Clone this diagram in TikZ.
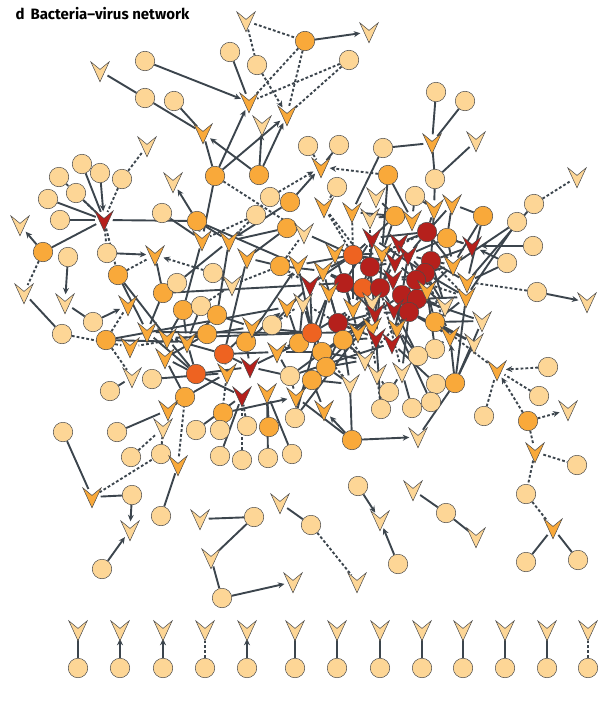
\documentclass[tikz,border=0pt]{standalone}
\usepackage{fontspec}
\setmainfont{Fira Sans}
\usetikzlibrary{arrows.meta,backgrounds}

\definecolor{cla}{HTML}{FDD696}
\definecolor{lar}{HTML}{F9A93A}
\definecolor{ver}{HTML}{EE6321}
\definecolor{esc}{HTML}{B5201C}
\definecolor{cinza}{HTML}{3C454D}
\definecolor{contorno}{HTML}{4A4A4A}

% virus: chevron apontando para baixo
\pgfdeclareshape{virus}{
  \inheritsavedanchors[from=circle]
  \inheritanchor[from=circle]{center}
  \inheritanchorborder[from=circle]
  \backgroundpath{
    \pgfpathmoveto{\pgfpointadd{\centerpoint}{\pgfpoint{0pt}{-10.8pt}}}
    \pgfpathlineto{\pgfpointadd{\centerpoint}{\pgfpoint{9.2pt}{9.2pt}}}
    \pgfpathlineto{\pgfpointadd{\centerpoint}{\pgfpoint{0pt}{1.6pt}}}
    \pgfpathlineto{\pgfpointadd{\centerpoint}{\pgfpoint{-9.2pt}{9.2pt}}}
    \pgfpathclose
  }
}

\begin{document}
\begin{tikzpicture}[
    x=1pt, y=-1pt,
    bact/.style={circle, minimum size=19.5pt, inner sep=0pt, draw=contorno,
                 line width=0.5pt, fill=#1},
    fago/.style={shape=virus, minimum size=17pt, inner sep=0pt, draw=contorno,
                 line width=0.5pt, fill=#1},
    liga/.style={draw=cinza, line width=1.9pt},
    infec/.style={liga, -{Stealth[length=6.5pt, width=6pt]}},
    pont/.style={liga, dash pattern=on 2.8pt off 2.1pt},
    ponta/.style={pont, -{Stealth[length=6.5pt, width=6pt]}}
  ]
  \useasboundingbox (0,0) rectangle (615,707);

  \node[anchor=base west, font=\fontsize{15}{18}\selectfont\bfseries] (titulo)
    at (12,19) {d\hspace{0.4em}Bacteria–virus network};

  % bacterias
  \foreach \n/\x/\y/\c in {b1/305/41/lar, b2/349/60/cla, b3/230/52/cla, b4/257/65/cla,
      b5/145/61/cla, b6/145/98/cla, b7/174/101/cla, b8/308/146/cla, b9/339/145/cla,
      b10/383/148/cla, b11/436/92/cla, b12/465/101/cla, b13/435/179/cla, b14/388/175/lar,
      b15/337/187/cla, b16/415/196/cla, b17/82/164/cla, b18/59/177/cla, b19/100/173/cla,
      b20/122/179/cla, b21/76/193/cla, b22/48/199/cla, b23/60/220/cla, b24/215/176/lar,
      b25/259/175/lar, b26/270/197/cla, b27/290/202/lar, b28/162/213/cla, b29/197/221/lar,
      b30/256/215/cla, b31/287/228/lar, b32/280/266/lar, b33/43/252/lar, b34/68/257/cla,
      b35/107/253/cla, b36/118/275/lar, b37/163/293/lar, b38/177/283/cla, b39/213/273/cla,
      b40/183/310/lar, b41/201/306/cla, b42/217/315/lar, b43/93/322/cla, b44/62/334/cla,
      b45/106/340/lar, b46/207/334/lar, b47/272/325/cla, b48/246/342/lar, b49/299/343/lar,
      b50/224/354/ver, b51/152/379/cla, b52/196/374/ver, b53/290/376/cla, b54/110/391/cla,
      b55/185/397/lar, b56/223/413/lar, b57/295/418/cla, b58/63/432/cla, b59/117/432/cla,
      b60/196/430/cla, b61/220/430/cla, b62/247/426/cla, b63/269/427/lar, b64/131/457/cla,
      b65/161/454/cla, b66/220/456/cla, b67/242/460/cla, b68/268/458/cla, b69/292/454/cla,
      b70/427/232/esc, b71/447/238/lar, b72/533/246/cla, b73/507/263/cla, b74/353/255/ver,
      b75/370/267/esc, b76/431/261/esc, b77/425/273/esc, b78/344/283/esc, b79/363/288/ver,
      b80/380/288/esc, b81/416/280/esc, b82/537/292/cla, b83/402/295/esc, b84/417/299/esc,
      b85/409/312/esc, b86/435/322/lar, b87/312/333/ver, b88/338/323/esc, b89/343/340/lar,
      b90/322/352/lar, b91/326/367/lar, b92/312/380/lar, b93/435/349/cla, b94/418/356/cla,
      b95/436/384/cla, b96/455/383/lar, b97/389/392/cla, b98/431/402/cla, b99/412/408/cla,
      b100/381/409/cla, b101/548/367/cla, b102/539/396/cla, b103/484/416/cla,
      b104/528/421/lar, b105/577/465/cla, b106/352/440/lar, b107/395/216/lar,
      b108/483/216/lar, b109/534/204/cla, b110/517/222/cla, b111/132/495/cla,
      b112/102/569/cla, b113/161/516/cla, b114/254/517/cla, b115/222/598/cla,
      b116/311/525/cla, b117/358/486/cla, b118/398/564/cla, b119/446/513/cla,
      b120/526/494/cla, b121/526/562/cla, b122/578/560/cla}
    {\node[bact=\c] (\n) at (\x,\y) {};}

  % virus
  \foreach \n/\x/\y/\c in {v1/246/21/cla, v2/369/32/cla, v3/100/71/cla, v4/249/102/lar,
      v5/287/115/lar, v6/203/133/lar, v7/262/125/cla, v8/147/146/cla, v9/432/143/lar,
      v10/476/141/cla, v11/577/177/cla, v12/321/167/lar, v13/104/220/esc, v14/20/225/cla,
      v15/173/182/cla, v16/304/233/cla, v17/202/240/lar, v18/229/241/lar, v19/247/258/lar,
      v20/298/265/lar, v21/232/285/cla, v22/155/255/lar, v23/24/293/cla, v24/65/303/cla,
      v25/128/305/lar, v26/147/332/lar, v27/167/338/lar, v28/187/342/lar, v29/252/327/lar,
      v30/287/307/lar, v31/130/347/lar, v32/165/358/lar, v33/250/367/esc, v34/277/352/lar,
      v35/132/377/cla, v36/227/373/lar, v37/242/396/esc, v38/267/393/lar, v39/296/397/lar,
      v40/168/410/lar, v41/163/428/cla, v42/178/465/lar, v43/472/246/esc, v44/372/238/esc,
      v45/399/243/esc, v46/408/255/esc, v47/382/253/lar, v48/335/253/lar, v49/453/265/lar,
      v50/310/285/esc, v51/393/279/esc, v52/467/282/lar, v53/587/302/cla, v54/323/271/lar,
      v55/329/292/lar, v56/303/303/cla, v57/427/290/lar, v58/466/297/lar, v59/353/308/lar,
      v60/372/302/cla, v61/375/313/esc, v62/394/309/esc, v63/445/306/cla, v64/482/321/cla,
      v65/450/336/lar, v66/474/343/cla, v67/358/332/lar, v68/372/327/lar, v69/397/328/lar,
      v70/376/338/esc, v71/392/343/esc, v72/365/360/cla, v73/377/374/cla, v74/402/372/cla,
      v75/350/384/cla, v76/497/370/lar, v77/568/410/cla, v78/535/452/lar, v79/324/410/lar,
      v80/418/437/cla, v82/324/207/lar, v83/352/212/lar, v84/376/197/cla, v85/370/218/cla,
      v86/412/220/lar, v87/434/209/lar, v88/452/204/lar, v89/395/262/esc, v90/92/497/lar,
      v91/130/530/cla, v93/200/519/cla, v94/211/558/cla, v95/293/582/cla, v96/280/503/cla,
      v97/357/582/cla, v98/380/520/cla, v99/413/490/cla, v100/476/537/cla, v101/553/528/lar}
    {\node[fago=\c] (\n) at (\x,\y) {};}

  % pares isolados embaixo
  \foreach \i/\x in {1/78, 2/120, 3/163, 4/205, 5/247, 6/295, 7/337, 8/380, 9/422,
      10/463, 11/505, 12/547, 13/588}
    {\node[bact=cla] (c\i) at (\x,668) {};
     \node[fago=cla] (f\i) at (\x,630) {};}

  \begin{scope}[on background layer]
    \foreach \a/\b in {b3/v4, v3/b6, b6/v6, b7/v6, v6/b24, b24/v17, b28/v17, b29/v13,
        b17/v13, b21/v13, b22/v13, b23/v13, b33/v13, v23/b44, v24/b43, b11/v9, b12/v9,
        v9/b10, v9/b13, b13/v10, b14/v86, b10/v83, b9/v12, b29/v17, b29/v18, b29/v20,
        b36/v26, b36/v27, b37/v22, b37/v26, b38/v18, b40/v17, b40/v27, b40/v28, b41/v28,
        b42/v18, b42/v29, b42/v28, b46/v29, b46/v32, b45/v28, b45/v30, v27/b52, v27/b50,
        b47/v50, b49/v30, b49/v34, b49/v33, b49/v56, v33/b53, v33/b50, v33/b48, v33/b52,
        b53/v34, b53/v39, b53/v61, b50/v36, b50/v34, b50/v19, b50/v29, b52/v28, b52/v32,
        b52/v26, b52/v37, b51/v36, b54/v35, b55/v40, b55/v36, b55/v32, b59/v40, b60/v37,
        b63/v38, b66/v37, b68/v38, b69/v38, b57/v55, b32/v19, b32/v20, b31/v16, b31/v18,
        b31/v19, v21/b39, v54/b32, v20/b74, v20/b87, v16/b74, b58/v90, b111/v90,
        b113/v42, b114/v93, b114/v94, b115/v94, v96/b116, v99/b119, b119/v100,
        b121/v101, b122/v101, b37/v50, b57/v61, b53/v71, b92/v61, b87/v27}
      {\draw[liga] (\a) -- (\b);}

    % nucleo denso
    \foreach \a/\b in {b107/v84, b107/v85, b107/v86, b107/v83, b107/v47, b107/v44,
        b14/v47, b16/v87, b16/v86, b13/v87, b108/v88, b108/v52, b108/v49, b109/v52,
        b110/v58, b110/v49, b73/v52, b93/v57, b93/v65, b94/v69, b94/v62, b95/v71,
        b96/v80, b96/v58, b96/v64, b97/v74, b98/v69, b99/v74, b100/v70, b106/v75,
        b106/v39, v66/b96, v64/b84, v79/b92,
        b70/v44, b70/v45, b70/v46, b70/v87, b70/v86, b70/v88, b70/v49, b71/v43, b71/v49,
        b71/v88, b71/v46, b74/v48, b74/v44, b74/v54, b74/v47, b74/v59, b74/v50, b75/v44,
        b75/v47, b75/v48, b75/v51, b75/v89, b75/v59, b75/v60, b75/v61, b76/v43, b76/v46,
        b76/v49, b76/v52, b76/v87, b76/v57, b77/v46, b77/v49, b77/v57, b77/v51, b77/v63,
        b77/v58, b78/v50, b78/v54, b78/v55, b78/v48, b78/v59, b78/v61, b78/v67, b79/v54,
        b79/v55, b79/v47, b79/v60, b79/v68, b79/v59, b80/v51, b80/v89, b80/v47, b80/v60,
        b80/v62, b80/v68, b80/v70, b81/v46, b81/v89, b81/v51, b81/v57, b81/v62, b81/v63,
        b83/v51, b83/v57, b83/v62, b83/v69, b83/v61, b83/v71, b84/v57, b84/v58, b84/v63,
        b84/v69, b85/v62, b85/v69, b85/v71, b85/v65, b85/v61, b85/v74, b86/v57, b86/v58,
        b86/v63, b86/v65, b86/v64, b86/v66, b87/v50, b87/v55, b87/v56, b87/v59, b87/v67,
        b87/v29, b87/v26, b88/v55, b88/v59, b88/v67, b88/v61, b88/v70, b88/v54, b89/v67,
        b89/v70, b89/v72, b89/v68, b89/v75, b90/v56, b90/v67, b90/v72, b90/v34, b91/v72,
        b91/v75, b91/v59, b91/v39, b92/v39, b92/v75, b75/v45, b78/v44, b80/v45, b84/v49,
        b83/v46, b85/v66, b79/v61, b76/v63, b77/v44, b88/v68, b89/v61, b74/v89}
      {\draw[liga] (\a) -- (\b);}

    \foreach \a/\b in {b1/v2, b5/v4, b24/v4, b24/v5, b25/v6, b25/v7, b25/v5, b29/v15,
        b33/v14, b34/v24, b35/v22, b43/v25, b19/v13, b27/v12, b27/v18, b48/v30, b48/v20,
        b56/v39, b72/v43, b73/v43, b82/v53, b96/v65, b106/v80, b106/v79, b111/v91,
        b112/v91, b115/v95, b117/v98, b118/v98}
      {\draw[infec] (\a) -- (\b);}

    \foreach \a/\b in {v1/b1, v1/b4, b1/v4, b1/v5, b2/v4, b2/v5, b20/v13, b18/v13,
        v13/b35, v13/b36, b36/v22, b33/v23, b44/v31, v8/b20, b8/v12, b15/v82, b24/v16,
        b30/v17, b30/v18, b32/v16, v21/b32, v50/b32, b41/v21, b46/v31, b45/v35, v25/b45,
        b47/v56, b64/v41, b65/v41, v90/b65, v42/b55, b61/v36, b62/v37, b67/v37, b97/v73,
        b100/v73, v52/b82, b109/v11, b102/v76, b103/v76, b86/v76, b104/v78, v78/b105,
        v78/b120, b120/v101, b116/v97, b70/v43, b74/v82, b75/v85, b88/v56, b88/v72,
        b89/v73, b85/v72, b80/v74, b83/v63, b81/v58, b76/v58, b77/v65, b70/v47, b74/v83,
        b75/v82, b79/v73, b87/v34, b90/v75}
      {\draw[pont] (\a) -- (\b);}

    \foreach \a/\b in {b4/v5, b39/v22, b14/v12, b26/v12, b101/v76, b104/v76, b104/v77}
      {\draw[ponta] (\a) -- (\b);}

    \foreach \i in {1,6,7,8,9,10,11,12} {\draw[liga] (c\i) -- (f\i);}
    \foreach \i in {2,3,5} {\draw[infec] (c\i) -- (f\i);}
    \foreach \i in {4,13} {\draw[pont] (c\i) -- (f\i);}
  \end{scope}
\end{tikzpicture}
\end{document}
